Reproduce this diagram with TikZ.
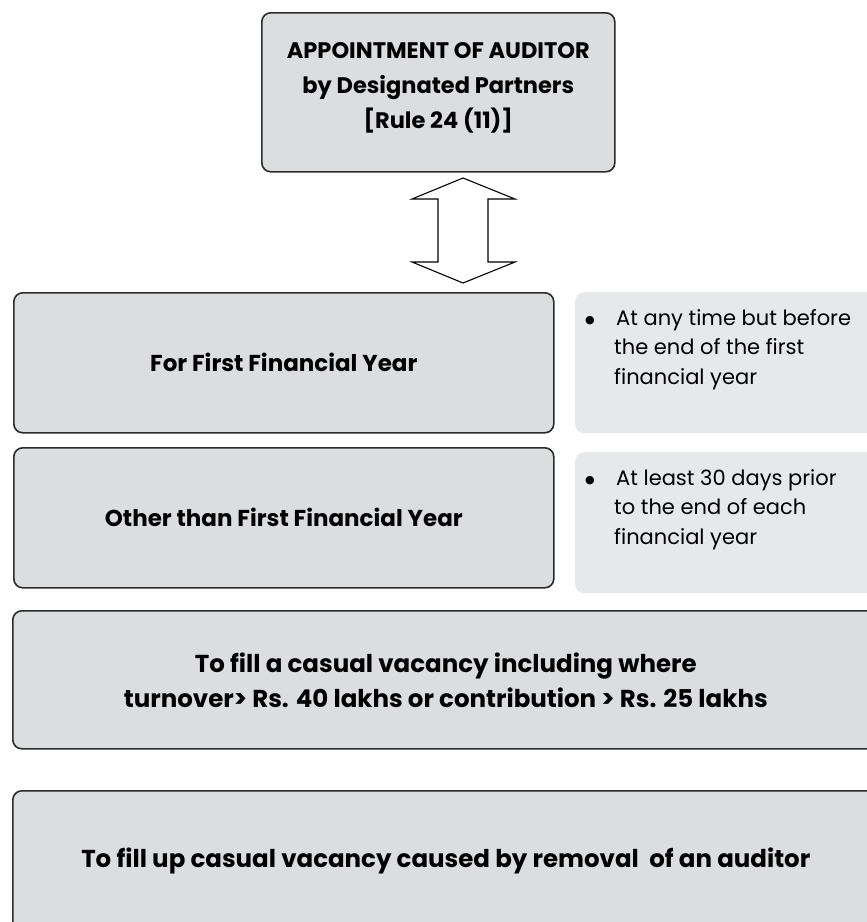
\documentclass[tikz,border=0pt]{standalone}
\usepackage{fontspec}
\setmainfont{Poppins}
\newfontfamily\symfont{DejaVu Sans}
\definecolor{boxfill}{HTML}{DCDDDF}
\definecolor{notefill}{HTML}{E7E8E9}
\definecolor{boxline}{HTML}{2B2B2B}
\newcommand{\notebullet}{\makebox[31pt][l]{\raisebox{1.5pt}{\symfont\fontsize{11}{11}\selectfont ●}}}
\begin{document}
\begin{tikzpicture}[x=1pt,y=-1pt,
  mainbox/.style={draw=boxline, line width=1.6pt, fill=boxfill,
    rounded corners=9pt, anchor=north west, inner sep=0pt, align=center},
  headfont/.style={font=\bfseries\fontsize{22.5}{35}\selectfont},
  casefont/.style={font=\bfseries\fontsize{23}{35}\selectfont},
  vacfont/.style={font=\bfseries\fontsize{24.5}{35}\selectfont},
  notebox/.style={fill=notefill, rounded corners=9pt, anchor=north west,
    inner sep=0pt},
  notetext/.style={anchor=north west, inner sep=0pt, align=left,
    font=\fontsize{21}{29.5}\selectfont},
  bigarrow/.style={draw=black, line width=1.1pt, fill=white, line join=miter}]
\useasboundingbox (0,0) rectangle (867,922);
\clip (0,0) rectangle (867,922);

% heading box
\node[mainbox, headfont, minimum width=353pt, minimum height=159pt] (head)
  at (261,12) {APPOINTMENT OF AUDITOR\\by Designated Partners\\{}[Rule 24 (11)]\\[-22pt]};

% two-headed arrow below the heading
\draw[bigarrow] (463,178) -- (515,199) -- (488,199) -- (488,262) -- (515,262)
  -- (463,283) -- (412,262) -- (438,262) -- (438,199) -- (412,199) -- cycle;

% timing cases
\node[mainbox, casefont, minimum width=540pt, minimum height=140pt] (first)
  at (13,292) {For First Financial Year};
\node[mainbox, casefont, minimum width=540pt, minimum height=140pt] (other)
  at (13,447) {Other than First Financial Year};

% notes beside the cases
\node[notebox, minimum width=320pt, minimum height=141pt] (n1) at (575,292) {};
\node[notetext] (n1txt) at ([xshift=10pt, yshift=-17pt]n1.north west)
  {\notebullet At any time but before\\
   \hspace*{29pt}the end of the first\\
   \hspace*{29pt}financial year};
\node[notebox, minimum width=320pt, minimum height=141pt] (n2) at (575,452) {};
\node[notetext] (n2txt) at ([xshift=10pt, yshift=-17pt]n2.north west)
  {\notebullet At least 30 days prior\\
   \hspace*{29pt}to the end of each\\
   \hspace*{29pt}financial year};

% casual vacancies
\node[mainbox, vacfont, minimum width=866pt, minimum height=138pt] (casual)
  at (12,610)
  {To fill a casual vacancy including where\\
   turnover> Rs. 40 lakhs or contribution > Rs. 25 lakhs};
\node[mainbox, vacfont, minimum width=866pt, minimum height=140pt] (removal)
  at (12,790)
  {To fill up casual vacancy caused by removal\ \ of an auditor};
\end{tikzpicture}
\end{document}
